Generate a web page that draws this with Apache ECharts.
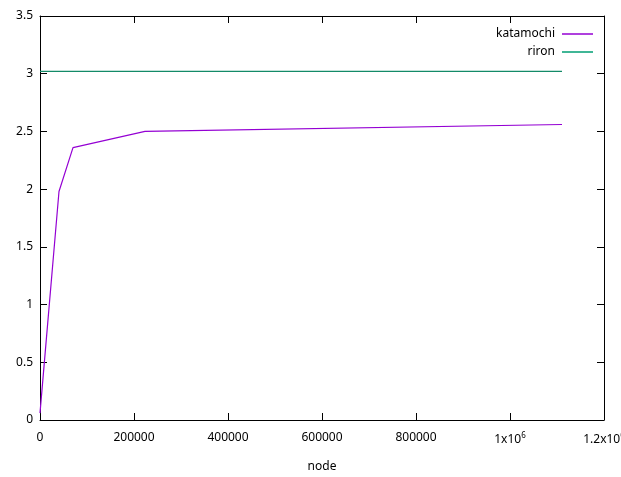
<!DOCTYPE html>
<html><head><meta charset="utf-8">
<script src="https://cdn.jsdelivr.net/npm/echarts@6/dist/echarts.min.js"></script>
<style>html,body{margin:0;padding:0;background:#fff}#c{width:621px;height:477px}</style>
</head><body><div id="c"></div>
<script>
const nodes = [0, 40400, 70200, 223400, 1110600];
const katamochi = [0.06, 1.98, 2.36, 2.50, 2.56];
const riron = [3.02, 3.02, 3.02, 3.02, 3.02];
const xTicks = [0, 200000, 400000, 600000, 800000, 1000000, 1200000];
const xTickLabels = ['0', '200000', '400000', '600000', '800000', '1x10{sup|6}', '1.2x10{sup|6}'];

const FONT = 'Noto Sans';
const chart = echarts.init(document.getElementById('c'), null, {renderer: 'canvas'});
const axisLine = {show: true, onZero: false, lineStyle: {color: '#000', width: 1}};
const tick = {show: true, inside: true, length: 7, lineStyle: {color: '#000'}};
chart.setOption({
  animation: false,
  backgroundColor: '#fff',
  textStyle: {fontFamily: FONT},
  grid: {left: 40, right: 17, top: 16, bottom: 57, containLabel: false, outerBoundsMode: 'none'},
  legend: {
    orient: 'vertical', right: 23, top: 23, align: 'right',
    itemWidth: 31, itemHeight: 1.5, itemGap: 6, icon: 'rect',
    textStyle: {fontFamily: FONT, fontSize: 12, color: '#000', padding: [0, 2, 0, 0]},
    data: ['katamochi', 'riron']
  },
  xAxis: [{
    type: 'value', min: 0, max: 1200000, interval: 200000,
    name: 'node', nameLocation: 'middle', nameGap: 41,
    nameTextStyle: {fontFamily: FONT, fontSize: 12, color: '#000'},
    axisLine: axisLine, axisTick: tick, splitLine: {show: false},
    axisLabel: {
      color: '#000', fontFamily: FONT, fontSize: 12, margin: 12,
      formatter: function (v) { const i = xTicks.indexOf(v); return i >= 0 ? xTickLabels[i] : ''; },
      rich: {sup: {fontSize: 8, verticalAlign: 'top', padding: [0, 0, 8, 0], fontFamily: FONT, color: '#000'}}
    }
  }, {
    type: 'value', min: 0, max: 1200000, interval: 200000, position: 'top',
    axisLine: axisLine, axisTick: tick, axisLabel: {show: false}, splitLine: {show: false}
  }],
  yAxis: [{
    type: 'value', min: 0, max: 3.5, interval: 0.5,
    axisLine: axisLine, axisTick: tick, splitLine: {show: false},
    axisLabel: {color: '#000', fontFamily: FONT, fontSize: 12, margin: 7}
  }, {
    type: 'value', min: 0, max: 3.5, interval: 0.5, position: 'right',
    axisLine: axisLine, axisTick: tick, axisLabel: {show: false}, splitLine: {show: false}
  }],
  series: [{
    name: 'katamochi', type: 'line', showSymbol: false, symbol: 'none',
    data: nodes.map((n, i) => [n, katamochi[i]]),
    itemStyle: {color: '#9400d3'}, lineStyle: {color: '#9400d3', width: 1.2}
  }, {
    name: 'riron', type: 'line', showSymbol: false, symbol: 'none',
    data: nodes.map((n, i) => [n, riron[i]]),
    itemStyle: {color: '#009e73'}, lineStyle: {color: '#138a68', width: 1.2}
  }]
});
</script></body></html>
